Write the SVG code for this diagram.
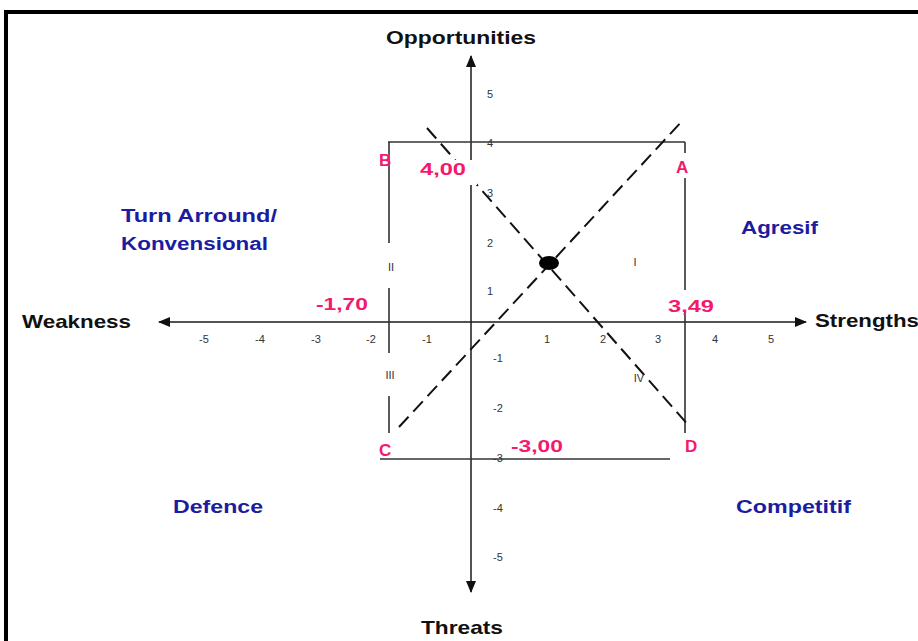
<svg xmlns="http://www.w3.org/2000/svg" width="918" height="641" viewBox="0 0 918 641">
<style>
.ax{stroke:#1a1a1a;stroke-width:1.5;fill:none}
.bx{stroke:#333;stroke-width:1.6;fill:none}
.ds{stroke:#111;stroke-width:2;stroke-dasharray:14 7;fill:none}
.t{font-family:"Liberation Sans",Arial,sans-serif;font-size:11px;fill:#333;text-anchor:middle}
.h{font-family:"Liberation Sans",Arial,sans-serif;font-size:19px;font-weight:bold;fill:#111}
.q{font-family:"Liberation Sans",Arial,sans-serif;font-size:18px;font-weight:bold;fill:#1c1ca0}
.p{font-family:"Liberation Sans",Arial,sans-serif;font-size:17px;font-weight:bold;fill:#f4196c}
.r{font-family:"Liberation Sans",Arial,sans-serif;font-size:11px;fill:#333;text-anchor:middle}
</style>
<defs>
<marker id="ar" viewBox="0 0 12 10" refX="11" refY="5" markerWidth="12" markerHeight="10" markerUnits="userSpaceOnUse" orient="auto-start-reverse">
<path d="M0,0 L12,5 L0,10 z" fill="#111"/>
</marker>
</defs>
<rect width="918" height="641" fill="#fff"/>
<path d="M6,641 V12 H918" stroke="#000" stroke-width="4" fill="none"/>
<g id="connectors">
<line class="ax" x1="159" y1="322" x2="806" y2="322" marker-start="url(#ar)" marker-end="url(#ar)"/>
<line class="ax" x1="471" y1="56" x2="471" y2="162" marker-start="url(#ar)"/>
<line class="ax" x1="471" y1="185" x2="471" y2="592" marker-end="url(#ar)"/>
<line class="bx" x1="388" y1="142" x2="685" y2="142"/>
<line class="bx" x1="380" y1="459" x2="670" y2="459"/>
<path class="bx" d="M389,142 V243 M389,288 V353 M389,396 V433"/>
<path class="bx" d="M685,142 V153 M685,178 V290 M685,312 V433"/>
<line class="ds" x1="399" y1="427" x2="684" y2="119"/>
<line class="ds" x1="427" y1="128" x2="690" y2="427"/>
<ellipse cx="549" cy="263" rx="10" ry="7" fill="#000"/>
<rect x="413" y="160" width="64" height="25" fill="#fff"/>
</g>
<g id="axis-titles">
<text class="h" x="386" y="44" textLength="150" lengthAdjust="spacingAndGlyphs">Opportunities</text>
<text class="h" x="22" y="328" textLength="109" lengthAdjust="spacingAndGlyphs">Weakness</text>
<text class="h" x="815" y="327" textLength="104" lengthAdjust="spacingAndGlyphs">Strengths</text>
<text class="h" x="421" y="634" textLength="82" lengthAdjust="spacingAndGlyphs">Threats</text>
</g>
<g id="quadrants">
<text class="q" x="121" y="222" textLength="156" lengthAdjust="spacingAndGlyphs">Turn Arround/</text>
<text class="q" x="121" y="250" textLength="147" lengthAdjust="spacingAndGlyphs">Konvensional</text>
<text class="q" x="741" y="234" textLength="77" lengthAdjust="spacingAndGlyphs">Agresif</text>
<text class="q" x="173" y="513" textLength="90" lengthAdjust="spacingAndGlyphs">Defence</text>
<text class="q" x="736" y="513" textLength="115" lengthAdjust="spacingAndGlyphs">Competitif</text>
</g>
<g id="values">
<text class="p" x="379" y="166">B</text>
<text class="p" x="420" y="175" textLength="46" lengthAdjust="spacingAndGlyphs">4,00</text>
<text class="p" x="676" y="173">A</text>
<text class="p" x="316" y="310" textLength="52" lengthAdjust="spacingAndGlyphs">-1,70</text>
<text class="p" x="668" y="312" textLength="46" lengthAdjust="spacingAndGlyphs">3,49</text>
<text class="p" x="379" y="456">C</text>
<text class="p" x="511" y="452" textLength="52" lengthAdjust="spacingAndGlyphs">-3,00</text>
<text class="p" x="685" y="452">D</text>
</g>
<g id="roman">
<text class="r" x="391" y="271">II</text>
<text class="r" x="635" y="266">I</text>
<text class="r" x="390" y="379">III</text>
<text class="r" x="639" y="382">IV</text>
</g>
<g id="ticks">
<text class="t" x="204" y="343">-5</text>
<text class="t" x="260" y="343">-4</text>
<text class="t" x="316" y="343">-3</text>
<text class="t" x="371" y="343">-2</text>
<text class="t" x="427" y="343">-1</text>
<text class="t" x="547" y="343">1</text>
<text class="t" x="603" y="343">2</text>
<text class="t" x="658" y="343">3</text>
<text class="t" x="715" y="343">4</text>
<text class="t" x="771" y="343">5</text>
<text class="t" x="490" y="98">5</text>
<text class="t" x="490" y="147">4</text>
<text class="t" x="490" y="197">3</text>
<text class="t" x="490" y="247">2</text>
<text class="t" x="490" y="295">1</text>
<text class="t" x="498" y="362">-1</text>
<text class="t" x="498" y="412">-2</text>
<text class="t" x="498" y="462">-3</text>
<text class="t" x="498" y="512">-4</text>
<text class="t" x="498" y="561">-5</text>
</g>
</svg>
